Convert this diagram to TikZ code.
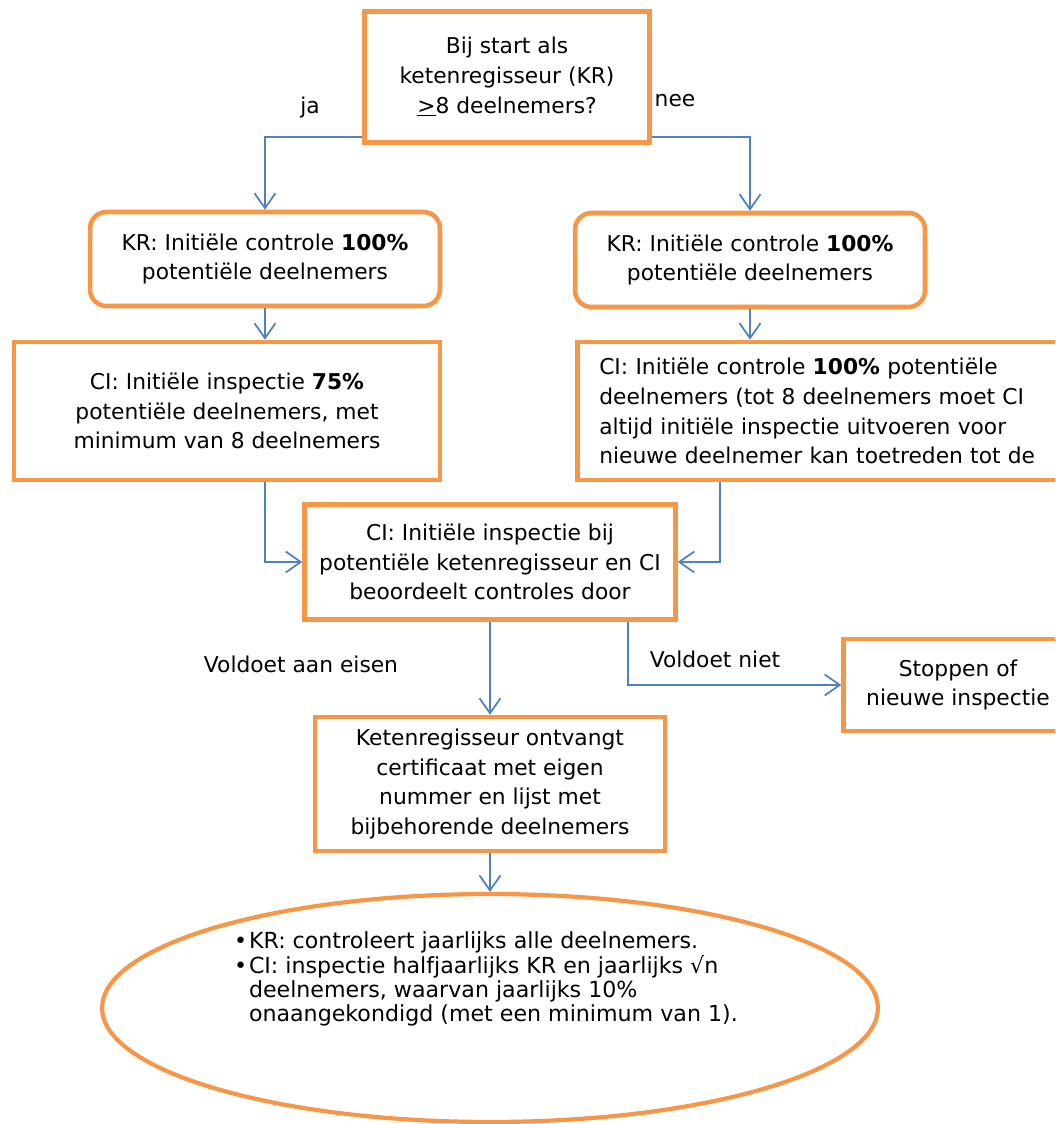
\documentclass[tikz,border=0pt]{standalone}
\usepackage{fontspec}
\setmainfont{DejaVu Sans}
\usetikzlibrary{positioning,shapes.geometric,arrows.meta,calc}
\definecolor{boxorange}{HTML}{F79646}
\definecolor{flowblue}{HTML}{4F81BD}

\begin{document}
\begin{tikzpicture}[x=0.02cm,y=-0.02cm,
    font=\fontsize{12.4}{17}\selectfont,
    box/.style={draw=boxorange,line width=2.6pt,inner sep=0pt,align=center},
    roundbox/.style={box,rounded corners=0.33cm},
    oval/.style={draw=boxorange,line width=2.4pt,ellipse,inner sep=0pt},
    flow/.style={draw=flowblue,line width=1pt,-{Straight Barb[length=0.3cm,width=0.42cm]}},
    lbl/.style={inner sep=0pt}]
   \useasboundingbox (0,0) rectangle (1055,1124);
   \clip (0,0) rectangle (1055,1124);

   \node[box,minimum width=5.7cm,minimum height=2.62cm] (start) at (507,77)
      {Bij start als\\ketenregisseur (KR)\\\underline{>}8 deelnemers?};
   \node[roundbox,minimum width=7cm,minimum height=1.88cm] (krL) at (265,259)
      {KR: Initiële controle \textbf{100\%}\\potentiële deelnemers};
   \node[roundbox,minimum width=7cm,minimum height=1.88cm] (krR) at (750,260)
      {KR: Initiële controle \textbf{100\%}\\potentiële deelnemers};
   \node[box,minimum width=8.52cm,minimum height=2.76cm] (ciL) at (227,411)
      {CI: Initiële inspectie \textbf{75\%}\\potentiële deelnemers, met\\minimum van 8 deelnemers};
   \node[box,anchor=west,minimum width=11.88cm,minimum height=2.76cm,inner xsep=0.44cm,
         text width=11cm,align=left] (ciR) at (575,411)
      {CI: Initiële controle \textbf{100\%} potentiële\\deelnemers (tot 8 deelnemers moet CI\\altijd initiële inspectie uitvoeren voor\\nieuwe deelnemer kan toetreden tot de};
   \node[box,minimum width=7.42cm,minimum height=2.3cm] (ci) at (490,562)
      {CI: Initiële inspectie bij\\potentiële ketenregisseur en CI\\beoordeelt controles door};
   \node[box,minimum width=4.58cm,minimum height=1.84cm] (stop) at (958,685)
      {Stoppen of\\nieuwe inspectie};
   \node[box,minimum width=7cm,minimum height=2.68cm] (cert) at (490,784)
      {Ketenregisseur ontvangt\\certificaat met eigen\\nummer en lijst met\\bijbehorende deelnemers};
   \node[oval,minimum width=15.52cm,minimum height=4.56cm] (monitor) at (490,1008) {};
   \node[lbl,font=\fontsize{12.6}{13.2}\selectfont] (duties) at (486,980)
      {\begin{tabular}{@{}l@{\hspace{1pt}}l@{}}
       \textbullet & KR: controleert jaarlijks alle deelnemers.\\
       \textbullet & CI: inspectie halfjaarlijks KR en jaarlijks √n\\
                   & deelnemers, waarvan jaarlijks 10\%\\
                   & onaangekondigd (met een minimum van 1).
       \end{tabular}};

   \node[lbl] (ja) at (310,107) {ja};
   \node[lbl] (nee) at (675,101) {nee};
   \node[lbl] (ok) at (301,664) {Voldoet aan eisen};
   \node[lbl] (notok) at (715,659) {Voldoet niet};

   \draw[flow] ([yshift=0.16cm]start.south west) -| (krL);
   \draw[flow] ([yshift=0.16cm]start.south east) -| (krR);
   \draw[flow] (krL) -- (krL.south |- ciL.north);
   \draw[flow] (krR) -- (krR.south |- ciR.north);
   \draw[flow] (ciL.south -| krL.south) |- (ci);
   \draw[flow] ($(ciR.south -| ci.east)+(42,0)$) |- (ci);
   \draw[flow] (ci) -- (cert);
   \draw[flow] ($(ci.south)+(138,0)$) |- (stop);
   \draw[flow] (cert) -- (monitor);
\end{tikzpicture}
\end{document}
